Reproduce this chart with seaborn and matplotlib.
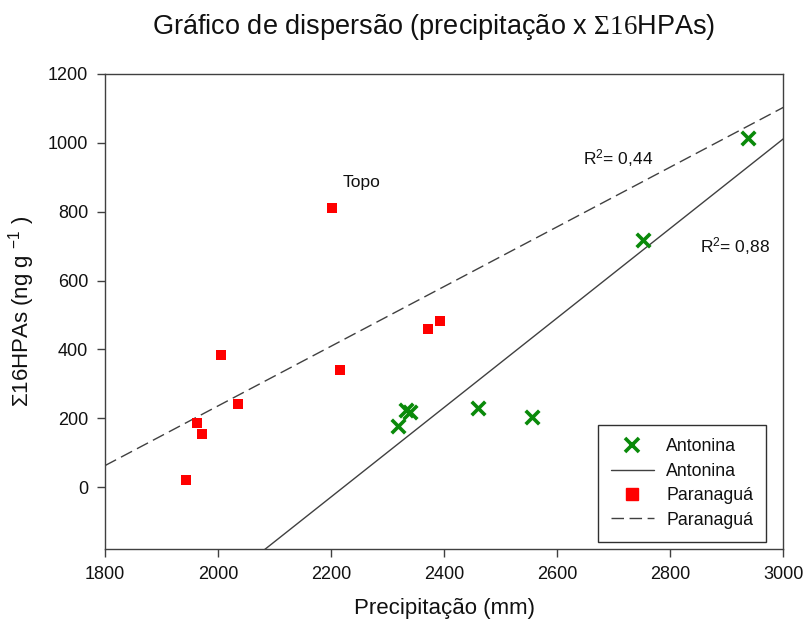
import numpy as np
import pandas as pd
import matplotlib
matplotlib.use('Agg')
import matplotlib.pyplot as plt
import seaborn as sns
from matplotlib.lines import Line2D

# Data
antonina_x = [2318, 2332, 2339, 2459, 2556, 2752, 2937]
antonina_y = [177, 224, 217, 231, 203, 717, 1013]
paranagua_x = [1943, 1962, 1972, 2006, 2036, 2201, 2216, 2372, 2392]
paranagua_y = [21, 186, 155, 383, 240, 812, 339, 459, 481]

x_ticks = [1800, 2000, 2200, 2400, 2600, 2800, 3000]
y_ticks = [0, 200, 400, 600, 800, 1000, 1200]

sns.set_style('ticks')
plt.rcParams['font.family'] = ['Liberation Sans', 'DejaVu Sans']
plt.rcParams['text.color'] = '#111111'
plt.rcParams['axes.labelcolor'] = '#111111'
plt.rcParams['xtick.labelcolor'] = '#111111'
plt.rcParams['ytick.labelcolor'] = '#111111'
plt.rcParams['mathtext.fontset'] = 'custom'
plt.rcParams['mathtext.rm'] = 'Liberation Serif'
plt.rcParams['mathtext.sf'] = 'Liberation Sans'
plt.rcParams['mathtext.it'] = 'Liberation Sans:italic'

ant = pd.DataFrame({'x': antonina_x, 'y': antonina_y})
par = pd.DataFrame({'x': paranagua_x, 'y': paranagua_y})

fig = plt.figure(figsize=(8.06, 6.28), dpi=100)
ax = fig.add_axes([0.1303, 0.1258, 0.8417, 0.7564])
ax.set_xlim(1800, 3000)
ax.set_ylim(-180, 1200)

line_col = '#404040'

# regression lines, extended over the whole x range
sns.regplot(data=ant, x='x', y='y', scatter=False, ci=None, truncate=False, ax=ax,
            line_kws=dict(color=line_col, lw=1))
sns.regplot(data=par, x='x', y='y', scatter=False, ci=None, truncate=False, ax=ax,
            line_kws=dict(color=line_col, lw=1, ls=(0, (9, 4))))

sns.scatterplot(data=ant, x='x', y='y', marker='x', color='#0a8a0a', s=95, linewidth=2.6, ax=ax, zorder=3)
sns.scatterplot(data=par, x='x', y='y', marker='s', color='#ff0000', s=62, linewidth=0, ax=ax, zorder=3)

ax.set_xlim(1800, 3000)
ax.set_ylim(-180, 1200)
ax.set_xticks(x_ticks)
ax.set_yticks(y_ticks)

for sp in ax.spines.values():
    sp.set_visible(True)
    sp.set_color(line_col)
    sp.set_linewidth(1)
ax.tick_params(direction='out', length=6, width=1, color=line_col, labelsize=13, pad=6)

ax.set_title('Gráfico de dispersão (precipitação x $\\mathrm{\\Sigma16}$HPAs)', fontsize=19.5,
             pad=29, x=0.484)
ax.set_xlabel('Precipitação (mm)', fontsize=16)
ax.set_ylabel('Σ16HPAs (ng g $^{\\mathsf{-1}}$ )', fontsize=16)
ax.xaxis.set_label_coords(0.5, -0.103)
ax.yaxis.set_label_coords(-0.100, 0.5)

ax.text(2221, 884, 'Topo', fontsize=12.5, va='center')
ax.text(2646, 956, 'R$^{\\mathsf{2}}$= 0,44', fontsize=12.5, va='center')
ax.text(2852, 700, 'R$^{\\mathsf{2}}$= 0,88', fontsize=12.5, va='center')

handles = [
    Line2D([], [], marker='x', color='#0a8a0a', ls='none', markersize=10, mew=2.6),
    Line2D([], [], color=line_col, lw=1),
    Line2D([], [], marker='s', color='#ff0000', ls='none', markersize=8),
    Line2D([], [], color=line_col, lw=1, ls=(0, (9, 4))),
]
labels = ['Antonina', 'Antonina', 'Paranaguá', 'Paranaguá']
leg = ax.legend(handles, labels, loc='lower right', bbox_to_anchor=(0.975, 0.0147),
                borderaxespad=0, fontsize=12.8, frameon=True, fancybox=False, framealpha=1,
                edgecolor='#303030', handlelength=2.4, labelspacing=0.42,
                borderpad=0.75, handletextpad=0.7)
leg.get_frame().set_linewidth(1)

fig.savefig('out.png', dpi=100)
